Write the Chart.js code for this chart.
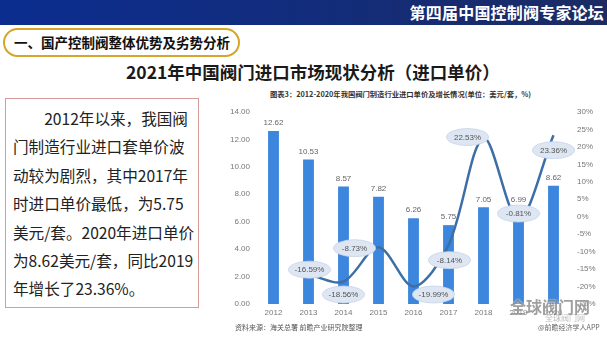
<!DOCTYPE html>
<html>
<head>
<meta charset="utf-8">
<script src="https://cdn.jsdelivr.net/npm/chart.js@4"></script>
<style>
  html,body{margin:0;padding:0;background:#fff;}
  body{width:607px;height:355px;position:relative;overflow:hidden;font-family:"Noto Sans CJK SC","Noto Sans",sans-serif;}
  .hdr{position:absolute;left:0;top:0;width:607px;height:25px;background:linear-gradient(90deg,#0b2d8f 0%,#132c7a 55%,#1c2b62 100%);}
  .hdr span{position:absolute;right:3px;top:1px;color:#fff;font-size:16px;font-weight:700;line-height:22px;letter-spacing:0.2px;}
  .pill{position:absolute;left:3px;top:28px;width:233px;height:25px;border:2px solid #d6a52a;border-radius:15px;}
  .pill span{position:absolute;left:9px;top:2px;font-size:13.5px;font-weight:700;color:#111;line-height:20px;}
  .title{position:absolute;left:126px;top:60px;font-size:17.5px;font-weight:700;color:#1a1a1a;line-height:24px;white-space:nowrap;}
  .box{position:absolute;left:5px;top:98px;width:194px;height:210px;border:1px solid #d99a9a;box-sizing:border-box;}
  .box p{margin:0;position:absolute;left:7px;top:5px;font-size:15.6px;line-height:28.4px;color:#222;white-space:nowrap;}
  .sub{position:absolute;left:270px;top:89px;font-size:7.3px;font-weight:700;color:#333;white-space:nowrap;font-family:"Noto Sans CJK SC",serif;}
  .src{position:absolute;left:235px;top:322px;font-size:7px;color:#555;white-space:nowrap;}
  .app{position:absolute;left:538px;top:322px;font-size:7px;color:#666;white-space:nowrap;}
  .wm{position:absolute;left:510px;top:294px;font-size:16px;font-weight:700;color:rgba(80,80,80,0.55);white-space:nowrap;text-shadow:0 0 2px #fff;}
  .wm2{position:absolute;left:545px;top:312px;font-size:8px;color:rgba(120,120,120,0.5);white-space:nowrap;}
  canvas{position:absolute;left:200px;top:85px;}
</style>
</head>
<body>
<div class="hdr"><span>第四届中国控制阀专家论坛</span></div>
<div class="pill"><span>一、国产控制阀整体优势及劣势分析</span></div>
<div class="title">2021年中国阀门进口市场现状分析（进口单价）</div>
<div class="box"><p>　　2012年以来，我国阀<br>门制造行业进口套单价波<br>动较为剧烈，其中2017年<br>时进口单价最低，为5.75<br>美元/套。2020年进口单价<br>为8.62美元/套，同比2019<br>年增长了23.36%。</p></div>
<div class="sub">图表3：2012-2020年我国阀门制造行业进口单价及增长情况(单位：美元/套，%)</div>
<canvas id="c" width="407" height="255"></canvas>
<div class="src">资料来源：海关总署 前瞻产业研究院整理</div>
<div class="wm">全球阀门网</div>
<div class="wm2">全球阀门网</div>
<div class="app">@前瞻经济学人APP</div>
<script>
const years = ["2012","2013","2014","2015","2016","2017","2018","2019","2020"];
const unitPrice = [12.62, 10.53, 8.57, 7.82, 6.26, 5.75, 7.05, 6.99, 8.62];
const growthPct = [null, -16.59, -18.56, -8.73, -19.99, -8.14, 22.53, -0.81, 23.36];
const leftTicks = [0, 2, 4, 6, 8, 10, 12, 14];
const rightTicks = [-25, -20, -15, -10, -5, 0, 5, 10, 15, 20, 25, 30];

// label bubble placement (style only): offsets in px relative to the point
const bubbleOffsets = [null,[1,-5],[0,13],[-24,1],[20,8],[1,15],[-16,-1],[0,-6],[0,15]];

const tickFont = {family:"'Liberation Sans', Arial, sans-serif", size:8};

const labelsPlugin = {
  id:'labelsPlugin',
  afterDatasetsDraw(chart){
    const ctx = chart.ctx;
    ctx.save();
    const bm = chart.getDatasetMeta(0);
    ctx.font = "8px 'Liberation Sans', Arial, sans-serif";
    ctx.fillStyle = '#666';
    ctx.textAlign = 'center';
    ctx.textBaseline = 'middle';
    bm.data.forEach((el,i)=>{
      ctx.fillText(unitPrice[i].toFixed(2), el.x, el.y - 8);
    });
    const lm = chart.getDatasetMeta(1);
    lm.data.forEach((el,i)=>{
      if (growthPct[i] === null || el.skip) return;
      const off = bubbleOffsets[i] || [0,0];
      const cx = el.x + off[0], cy = el.y + off[1];
      ctx.beginPath();
      ctx.ellipse(cx, cy, 21, 8.5, 0, 0, Math.PI*2);
      ctx.fillStyle = '#dde6f2';
      ctx.fill();
      ctx.lineWidth = 0.8;
      ctx.strokeStyle = '#c6d4e8';
      ctx.stroke();
      ctx.fillStyle = '#555';
      ctx.fillText(growthPct[i].toFixed(2) + '%', cx, cy + 0.5);
    });
    ctx.restore();
  }
};

new Chart(document.getElementById('c'), {
  data: {
    labels: years,
    datasets: [
      {
        type:'bar',
        label:'进口单价',
        data: unitPrice,
        yAxisID:'y',
        backgroundColor:'#3c86de',
        barPercentage:0.31,
        categoryPercentage:1.0,
        order:2
      },
      {
        type:'line',
        label:'增长率',
        data: growthPct,
        yAxisID:'y2',
        borderColor:'#3c6fa6',
        borderWidth:2.5,
        pointRadius:0,
        tension:0.32,
        fill:false,
        order:1
      }
    ]
  },
  options: {
    responsive:false,
    devicePixelRatio:1,
    animation:false,
    layout:{padding:{left:0,right:6,top:27,bottom:16}},
    plugins:{legend:{display:false},tooltip:{enabled:false},title:{display:false}},
    scales:{
      x:{
        grid:{display:false,drawTicks:false},
        border:{display:false},
        ticks:{font:tickFont,color:'#777',padding:4,maxRotation:0},
        afterFit(s){ s.height = 20; }
      },
      y:{
        position:'left',
        min:0,max:14,
        grid:{display:false,drawTicks:false},
        border:{display:false},
        afterBuildTicks(s){ s.ticks = leftTicks.map(v=>({value:v})); },
        ticks:{font:tickFont,color:'#777',padding:6,callback:v=>Number(v).toFixed(2)},
        afterFit(s){ s.width = 56; }
      },
      y2:{
        position:'right',
        min:-25,max:30,
        grid:{display:false,drawTicks:false},
        border:{display:false},
        afterBuildTicks(s){ s.ticks = rightTicks.map(v=>({value:v})); },
        ticks:{font:tickFont,color:'#777',padding:6,callback:v=>v+'%'},
        afterFit(s){ s.width = 30; }
      }
    }
  },
  plugins:[labelsPlugin]
});
</script>
</body>
</html>
